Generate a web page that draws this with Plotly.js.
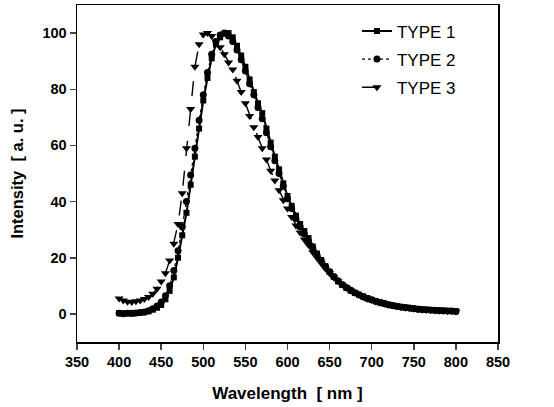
<!DOCTYPE html>
<html><head><meta charset="utf-8">
<script src="https://cdn.plot.ly/plotly-3.0.1.min.js"></script>
<style>html,body{margin:0;padding:0;background:#fff}#chart{width:554px;height:407px}</style>
</head><body><div id="chart"></div>
<script>
const wavelength = [400,405,410,415,420,425,430,435,440,445,450,455,460,465,470,475,480,485,490,495,500,505,510,515,520,525,530,535,540,545,550,555,560,565,570,575,580,585,590,595,600,605,610,615,620,625,630,635,640,645,650,655,660,665,670,675,680,685,690,695,700,705,710,715,720,725,730,735,740,745,750,755,760,765,770,775,780,785,790,795,800];
const type1 = [0.3,0.2,0.3,0.1,0.3,0.4,0.6,0.9,1.5,2.2,3.2,5.2,8.2,13,20,28,36,46,56,66,76,84,91,96,98.5,99.8,100,98.5,95.5,92,88,83.5,79,75,71.5,66,61,56,51.5,46.5,42,38.5,35,32,29.5,27,24,21.5,19.2,17,15,13.2,11.6,10.3,9.2,8.3,7.5,6.8,6.2,5.6,5.0,4.5,4.1,3.7,3.3,3.0,2.7,2.5,2.3,2.1,1.9,1.8,1.6,1.5,1.4,1.3,1.2,1.2,1.1,1.0,1.0];
const type2 = [0.2,0.1,0.2,0.2,0.3,0.5,0.7,1.1,1.8,2.8,4.2,6.5,10,15.5,22.5,31,40,49.5,59,69,78,86,92.5,97,99.3,100,99,97,94,90.5,86.5,82,78,73.5,69.5,64.5,59.5,54.5,50,45.5,41,37.5,34,31,28.5,26,23.5,21,19,17,15,13.3,11.8,10.5,9.4,8.4,7.5,6.8,6.1,5.5,5.0,4.5,4.1,3.7,3.3,3.0,2.7,2.5,2.3,2.1,1.9,1.7,1.6,1.5,1.4,1.3,1.2,1.1,1.0,1.0,0.9];
const type3 = [5.5,4.8,4.3,4.2,4.5,4.8,5.3,6.0,7.2,9.0,11.5,14.5,19,25,32,43,59,73,88,96,99.5,100,99,97,95,92.5,89.5,87,83,79,75,70.5,66.5,63,59,55,51,47.5,44,40.5,37.5,34.5,31.5,29,26.5,24.5,22,20,18,16.2,14.5,13,11.6,10.4,9.3,8.3,7.5,6.7,6.0,5.4,4.9,4.4,4.0,3.6,3.3,3.0,2.7,2.4,2.2,2.0,1.8,1.7,1.5,1.4,1.3,1.2,1.1,1.1,1.0,1.0,0.9];
const seriesNames = ['TYPE 1','TYPE 2','TYPE 3'];
const xTicks = [350,400,450,500,550,600,650,700,750,800,850];
const yTicks = [0,20,40,60,80,100];

const traces = [
  {x: wavelength, y: type1, name: seriesNames[0], mode:'lines+markers', legendgroup:'a',
   line:{color:'#000', width:2}, marker:{symbol:'square', size:6, color:'#000'}},
  {x: wavelength, y: type2, name: seriesNames[1], mode:'lines+markers', legendgroup:'b',
   line:{color:'#000', width:1.2, dash:'dot'}, marker:{symbol:'circle', size:7, color:'#000'}},
  {x: wavelength, y: type3, name: seriesNames[2], mode:'lines+markers', legendgroup:'c',
   line:{color:'#000', width:1.4, dash:'longdash'}, marker:{symbol:'triangle-down', size:8, color:'#000'}}
];
const FAM = 'Liberation Sans, Arial, sans-serif';
const axisFont = {family:FAM, size:14.5, color:'#000', weight:'bold'};
const layout = {
  width:554, height:407,
  margin:{l:77, r:56, t:5, b:65},
  paper_bgcolor:'#fff', plot_bgcolor:'#fff',
  showlegend:true,
  legend:{x:0.665, y:0.975, xanchor:'left', yanchor:'top', bgcolor:'rgba(0,0,0,0)',
          font:{family:FAM, size:17, color:'#000'},
          tracegroupgap:3, traceorder:'grouped'},
  xaxis:{range:[350,850], tickvals:xTicks, ticktext:xTicks.map(String), ticks:'outside', ticklen:6, tickwidth:1.5,
         showline:true, linecolor:'#000', linewidth:1.5, mirror:true, showgrid:false, zeroline:false,
         tickfont:axisFont,
         title:{text:'Wavelength  [ nm ]', font:{family:FAM, size:17, color:'#000', weight:'bold'}, standoff:18}},
  yaxis:{range:[-10,110], tickvals:yTicks, ticktext:yTicks.map(String), ticks:'outside', ticklen:6, tickwidth:1.5,
         showline:true, linecolor:'#000', linewidth:1.5, mirror:true, showgrid:false, zeroline:false,
         tickfont:axisFont,
         title:{text:'Intensity  [ a. u. ]', font:{family:FAM, size:16.5, color:'#000', weight:'bold'}, standoff:14}}
};
Plotly.newPlot('chart', traces, layout, {displayModeBar:false, staticPlot:true});
</script></body></html>
